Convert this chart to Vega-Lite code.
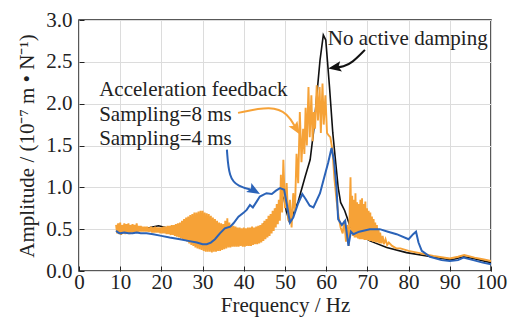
{
"$schema":"https://vega.github.io/schema/vega-lite/v6.json",
"width":412,"height":251,
"autosize":"none",
"padding":{"left":79,"top":20,"right":17,"bottom":53},
"background":"white",
"config":{
 "font":"Liberation Serif",
 "view":{"stroke":"#222","strokeWidth":1.5},
 "axis":{"labelFont":"Liberation Serif","labelFontSize":21,"titleFont":"Liberation Serif","titleFontSize":21,"titleFontWeight":"normal","labelColor":"#222","titleColor":"#222","gridColor":"#dcdcdc","gridWidth":1,"domain":false,"tickColor":"#222","tickSize":-5,"tickWidth":1}
},
"datasets":{
 "black":[{"f":9,"a":0.5},{"f":10,"a":0.49},{"f":12,"a":0.49},{"f":14,"a":0.5},{"f":16,"a":0.51},{"f":17.2,"a":0.52},{"f":19.3,"a":0.54},{"f":21,"a":0.52},{"f":23,"a":0.48},{"f":25,"a":0.45},{"f":27,"a":0.42},{"f":29,"a":0.39},{"f":31,"a":0.35},{"f":33,"a":0.33},{"f":34.5,"a":0.31},{"f":36,"a":0.4},{"f":37,"a":0.36},{"f":37.5,"a":0.32},{"f":39,"a":0.34},{"f":41,"a":0.38},{"f":43,"a":0.47},{"f":45,"a":0.57},{"f":46,"a":0.6},{"f":47,"a":0.67},{"f":48,"a":0.75},{"f":49,"a":0.85},{"f":49.7,"a":0.88},{"f":50.3,"a":0.72},{"f":51,"a":0.6},{"f":52,"a":0.68},{"f":53.2,"a":0.83},{"f":54.9,"a":1.13},{"f":56.1,"a":1.33},{"f":56.9,"a":1.65},{"f":57.7,"a":2.09},{"f":58.5,"a":2.52},{"f":59.3,"a":2.82},{"f":59.9,"a":2.76},{"f":60.8,"a":2.2},{"f":61.6,"a":1.65},{"f":62.3,"a":1.3},{"f":62.9,"a":1.0},{"f":63.5,"a":0.82},{"f":64.5,"a":0.72},{"f":65.2,"a":0.62},{"f":65.8,"a":0.53},{"f":67.4,"a":0.46},{"f":70.6,"a":0.36},{"f":74.7,"a":0.28},{"f":79.5,"a":0.22},{"f":84.4,"a":0.18},{"f":89.2,"a":0.14},{"f":91,"a":0.14},{"f":93.3,"a":0.17},{"f":95.7,"a":0.15},{"f":100,"a":0.1}],
 "blue":[{"f":9,"a":0.48},{"f":9.5,"a":0.46},{"f":10,"a":0.45},{"f":11,"a":0.46},{"f":12,"a":0.45},{"f":13,"a":0.45},{"f":14,"a":0.46},{"f":15,"a":0.45},{"f":16.4,"a":0.45},{"f":18,"a":0.44},{"f":20,"a":0.42},{"f":22,"a":0.4},{"f":24.5,"a":0.38},{"f":26.5,"a":0.36},{"f":28.6,"a":0.34},{"f":30,"a":0.32},{"f":31,"a":0.32},{"f":32,"a":0.34},{"f":33,"a":0.38},{"f":34.2,"a":0.45},{"f":35.4,"a":0.51},{"f":36.7,"a":0.53},{"f":37.5,"a":0.57},{"f":38.7,"a":0.65},{"f":40,"a":0.7},{"f":40.7,"a":0.73},{"f":41.5,"a":0.79},{"f":42.2,"a":0.76},{"f":43,"a":0.82},{"f":43.9,"a":0.89},{"f":45.5,"a":0.93},{"f":46.8,"a":0.92},{"f":47.8,"a":0.96},{"f":48.8,"a":0.99},{"f":49.8,"a":0.97},{"f":50.5,"a":0.78},{"f":51.2,"a":0.58},{"f":52,"a":0.64},{"f":53.2,"a":0.81},{"f":54.2,"a":0.92},{"f":55,"a":0.86},{"f":56,"a":0.78},{"f":56.9,"a":0.76},{"f":58.5,"a":0.93},{"f":59.3,"a":1.08},{"f":60.5,"a":1.3},{"f":61.3,"a":1.47},{"f":61.9,"a":1.32},{"f":62.5,"a":1.0},{"f":62.9,"a":0.62},{"f":63.8,"a":0.55},{"f":64.6,"a":0.6},{"f":65.4,"a":0.3},{"f":66,"a":0.47},{"f":66.6,"a":0.44},{"f":68,"a":0.47},{"f":70.6,"a":0.5},{"f":73,"a":0.5},{"f":75,"a":0.47},{"f":77.1,"a":0.44},{"f":80,"a":0.38},{"f":81.1,"a":0.44},{"f":81.8,"a":0.47},{"f":82.4,"a":0.34},{"f":83.2,"a":0.24},{"f":85.2,"a":0.17},{"f":88,"a":0.13},{"f":90,"a":0.12},{"f":92,"a":0.13},{"f":93.3,"a":0.16},{"f":95.7,"a":0.13},{"f":98,"a":0.1},{"f":100,"a":0.08}],
 "orange":[{"f":9,"a":0.55},{"f":9.25,"a":0.45},{"f":9.5,"a":0.57},{"f":9.75,"a":0.44},{"f":10,"a":0.58},{"f":10.25,"a":0.43},{"f":10.5,"a":0.55},{"f":10.75,"a":0.45},{"f":11,"a":0.57},{"f":11.25,"a":0.44},{"f":11.5,"a":0.56},{"f":11.75,"a":0.45},{"f":12,"a":0.57},{"f":12.25,"a":0.44},{"f":12.5,"a":0.55},{"f":12.75,"a":0.46},{"f":13,"a":0.56},{"f":13.25,"a":0.45},{"f":13.5,"a":0.55},{"f":13.75,"a":0.46},{"f":14,"a":0.57},{"f":14.25,"a":0.46},{"f":14.5,"a":0.54},{"f":14.75,"a":0.47},{"f":15,"a":0.54},{"f":15.25,"a":0.47},{"f":15.5,"a":0.53},{"f":15.75,"a":0.47},{"f":16,"a":0.53},{"f":16.25,"a":0.47},{"f":16.5,"a":0.53},{"f":16.75,"a":0.47},{"f":17,"a":0.52},{"f":17.25,"a":0.47},{"f":17.5,"a":0.53},{"f":17.75,"a":0.46},{"f":18,"a":0.52},{"f":18.25,"a":0.46},{"f":18.5,"a":0.53},{"f":18.75,"a":0.46},{"f":19,"a":0.52},{"f":19.25,"a":0.46},{"f":19.5,"a":0.52},{"f":19.75,"a":0.45},{"f":20,"a":0.52},{"f":20.25,"a":0.45},{"f":20.5,"a":0.53},{"f":20.75,"a":0.45},{"f":21,"a":0.53},{"f":21.25,"a":0.44},{"f":21.5,"a":0.54},{"f":21.75,"a":0.44},{"f":22,"a":0.54},{"f":22.25,"a":0.43},{"f":22.5,"a":0.55},{"f":22.75,"a":0.43},{"f":23,"a":0.55},{"f":23.25,"a":0.42},{"f":23.5,"a":0.56},{"f":23.75,"a":0.41},{"f":24,"a":0.57},{"f":24.25,"a":0.4},{"f":24.5,"a":0.58},{"f":24.75,"a":0.39},{"f":25,"a":0.6},{"f":25.25,"a":0.38},{"f":25.5,"a":0.62},{"f":25.75,"a":0.36},{"f":26,"a":0.64},{"f":26.25,"a":0.35},{"f":26.5,"a":0.65},{"f":26.75,"a":0.33},{"f":27,"a":0.67},{"f":27.25,"a":0.31},{"f":27.5,"a":0.68},{"f":27.75,"a":0.3},{"f":28,"a":0.7},{"f":28.25,"a":0.28},{"f":28.5,"a":0.7},{"f":28.75,"a":0.27},{"f":29,"a":0.71},{"f":29.25,"a":0.26},{"f":29.5,"a":0.72},{"f":29.75,"a":0.25},{"f":30,"a":0.72},{"f":30.25,"a":0.24},{"f":30.5,"a":0.7},{"f":30.75,"a":0.23},{"f":31,"a":0.69},{"f":31.25,"a":0.23},{"f":31.5,"a":0.68},{"f":31.75,"a":0.23},{"f":32,"a":0.66},{"f":32.25,"a":0.22},{"f":32.5,"a":0.64},{"f":32.75,"a":0.23},{"f":33,"a":0.62},{"f":33.25,"a":0.23},{"f":33.5,"a":0.6},{"f":33.75,"a":0.24},{"f":34,"a":0.58},{"f":34.25,"a":0.24},{"f":34.5,"a":0.57},{"f":34.75,"a":0.25},{"f":35,"a":0.56},{"f":35.25,"a":0.26},{"f":35.5,"a":0.6},{"f":35.75,"a":0.27},{"f":36,"a":0.63},{"f":36.25,"a":0.28},{"f":36.5,"a":0.58},{"f":36.75,"a":0.28},{"f":37,"a":0.55},{"f":37.25,"a":0.29},{"f":37.5,"a":0.54},{"f":37.75,"a":0.29},{"f":38,"a":0.53},{"f":38.25,"a":0.29},{"f":38.5,"a":0.52},{"f":38.75,"a":0.29},{"f":39,"a":0.52},{"f":39.25,"a":0.3},{"f":39.5,"a":0.51},{"f":39.75,"a":0.29},{"f":40,"a":0.52},{"f":40.25,"a":0.29},{"f":40.5,"a":0.51},{"f":40.75,"a":0.3},{"f":41,"a":0.52},{"f":41.25,"a":0.3},{"f":41.5,"a":0.52},{"f":41.75,"a":0.3},{"f":42,"a":0.53},{"f":42.25,"a":0.31},{"f":42.5,"a":0.52},{"f":42.75,"a":0.32},{"f":43,"a":0.53},{"f":43.25,"a":0.32},{"f":43.5,"a":0.54},{"f":43.75,"a":0.33},{"f":44,"a":0.55},{"f":44.25,"a":0.34},{"f":44.5,"a":0.57},{"f":44.75,"a":0.36},{"f":45,"a":0.6},{"f":45.25,"a":0.38},{"f":45.5,"a":0.62},{"f":45.75,"a":0.4},{"f":46,"a":0.66},{"f":46.25,"a":0.42},{"f":46.5,"a":0.68},{"f":46.75,"a":0.45},{"f":47,"a":0.72},{"f":47.25,"a":0.48},{"f":47.5,"a":0.75},{"f":47.75,"a":0.52},{"f":48,"a":0.8},{"f":48.25,"a":0.56},{"f":48.5,"a":0.85},{"f":48.75,"a":0.6},{"f":49,"a":1.15},{"f":49.3,"a":0.7},{"f":49.6,"a":1.33},{"f":50,"a":0.75},{"f":50.4,"a":1.05},{"f":50.8,"a":0.6},{"f":51.2,"a":0.85},{"f":51.6,"a":0.52},{"f":52,"a":0.93},{"f":52.4,"a":0.7},{"f":52.8,"a":1.4},{"f":53.2,"a":1.05},{"f":53.6,"a":1.9},{"f":54,"a":1.3},{"f":54.4,"a":1.7},{"f":54.7,"a":1.4},{"f":55,"a":1.95},{"f":55.3,"a":1.5},{"f":55.7,"a":2.2},{"f":56,"a":1.6},{"f":56.4,"a":2.1},{"f":56.7,"a":1.55},{"f":57,"a":1.9},{"f":57.3,"a":1.7},{"f":57.7,"a":2.22},{"f":58,"a":1.8},{"f":58.4,"a":2.2},{"f":58.7,"a":1.65},{"f":59.1,"a":2.24},{"f":59.4,"a":1.75},{"f":59.8,"a":2.1},{"f":60.2,"a":1.65},{"f":60.6,"a":1.62},{"f":61,"a":1.6},{"f":61.5,"a":1.45},{"f":62,"a":1.1},{"f":62.5,"a":0.85},{"f":63,"a":0.65},{"f":63.5,"a":0.52},{"f":64,"a":0.45},{"f":64.4,"a":0.6},{"f":64.8,"a":0.35},{"f":65.1,"a":0.55},{"f":65.5,"a":0.3},{"f":65.9,"a":1.12},{"f":66.1,"a":0.45},{"f":66.3,"a":0.9},{"f":66.5,"a":0.42},{"f":66.7,"a":0.85},{"f":66.9,"a":0.4},{"f":67.1,"a":0.93},{"f":67.3,"a":0.4},{"f":67.5,"a":0.82},{"f":67.7,"a":0.39},{"f":67.9,"a":0.8},{"f":68.1,"a":0.38},{"f":68.3,"a":0.85},{"f":68.5,"a":0.38},{"f":68.7,"a":0.87},{"f":68.9,"a":0.38},{"f":69.1,"a":0.8},{"f":69.3,"a":0.37},{"f":69.5,"a":0.83},{"f":69.7,"a":0.37},{"f":69.9,"a":0.75},{"f":70.1,"a":0.37},{"f":70.3,"a":0.72},{"f":70.5,"a":0.36},{"f":70.7,"a":0.7},{"f":70.9,"a":0.36},{"f":71.1,"a":0.65},{"f":71.3,"a":0.35},{"f":71.5,"a":0.62},{"f":71.7,"a":0.35},{"f":71.9,"a":0.58},{"f":72.1,"a":0.34},{"f":72.3,"a":0.55},{"f":72.5,"a":0.34},{"f":72.7,"a":0.5},{"f":72.9,"a":0.33},{"f":73.1,"a":0.46},{"f":73.4,"a":0.33},{"f":73.7,"a":0.42},{"f":74,"a":0.32},{"f":74.4,"a":0.38},{"f":74.8,"a":0.31},{"f":75.2,"a":0.34},{"f":76,"a":0.3},{"f":77,"a":0.27},{"f":78,"a":0.27},{"f":80,"a":0.24},{"f":83,"a":0.21},{"f":86,"a":0.18},{"f":90,"a":0.15},{"f":92,"a":0.17},{"f":93.5,"a":0.19},{"f":96,"a":0.16},{"f":98,"a":0.14},{"f":100,"a":0.12}],
 "notes":[{"f":60.4,"a":2.70,"t":"No active damping"},{"f":4.9,"a":2.09,"t":"Acceleration feedback"},{"f":4.9,"a":1.79,"t":"Sampling=8 ms"},{"f":4.9,"a":1.51,"t":"Sampling=4 ms"}],
 "arrK":[{"f":69.4,"a":2.643},{"f":66.3,"a":2.488},{"f":64.1,"a":2.44},{"f":62.4,"a":2.434}],
 "arrO":[{"f":38.6,"a":1.89},{"f":46.8,"a":1.975},{"f":50.7,"a":1.88},{"f":52.6,"a":1.71}],
 "arrB":[{"f":35.9,"a":1.45},{"f":36.4,"a":1.116},{"f":38.6,"a":1.01},{"f":42.2,"a":0.967}],
 "tipK":[{"f":60.5,"a":2.42}],
 "tipO":[{"f":53.6,"a":1.63}],
 "tipB":[{"f":43.93,"a":0.92}]
},
"encoding":{
 "x":{"field":"f","type":"quantitative","scale":{"domain":[0,100],"nice":false,"zero":false},
  "axis":{"values":[0,10,20,30,40,50,60,70,80,90,100],"title":"Frequency / Hz","labelPadding":5,"titlePadding":2,"labelFlush":false,"grid":true}},
 "y":{"field":"a","type":"quantitative","scale":{"domain":[0,3],"nice":false},
  "axis":{"values":[0,0.5,1,1.5,2,2.5,3],"format":".1f","title":"Amplitude / (10⁻⁷ m • N⁻¹)","labelPadding":12,"titlePadding":8,"grid":true}}
},
"layer":[
 {"data":{"name":"black"},"mark":{"type":"line","color":"#111","strokeWidth":1.6}},
 {"data":{"name":"orange"},"mark":{"type":"line","color":"#f6a237","strokeWidth":1.9}},
 {"data":{"name":"blue"},"mark":{"type":"line","color":"#2b63b8","strokeWidth":2}},
 {"data":{"name":"arrK"},"mark":{"type":"line","color":"#111","strokeWidth":2,"interpolate":"basis"}},
 {"data":{"name":"arrO"},"mark":{"type":"line","color":"#f6a237","strokeWidth":2,"interpolate":"basis"}},
 {"data":{"name":"arrB"},"mark":{"type":"line","color":"#2b63b8","strokeWidth":2,"interpolate":"basis"}},
 {"data":{"name":"tipK"},"mark":{"type":"point","filled":true,"opacity":1,"color":"#111","size":169,"angle":170,"shape":"M0,0L-2,-0.8L-1.6,0L-2,0.8Z"}},
 {"data":{"name":"tipO"},"mark":{"type":"point","filled":true,"opacity":1,"color":"#f6a237","size":169,"angle":58,"shape":"M0,0L-2,-0.8L-1.6,0L-2,0.8Z"}},
 {"data":{"name":"tipB"},"mark":{"type":"point","filled":true,"opacity":1,"color":"#2b63b8","size":169,"angle":30,"shape":"M0,0L-2,-0.8L-1.6,0L-2,0.8Z"}},
 {"data":{"name":"notes"},"mark":{"type":"text","align":"left","baseline":"alphabetic","fontSize":21,"color":"#222"},"encoding":{"text":{"field":"t"}}}
]
}
